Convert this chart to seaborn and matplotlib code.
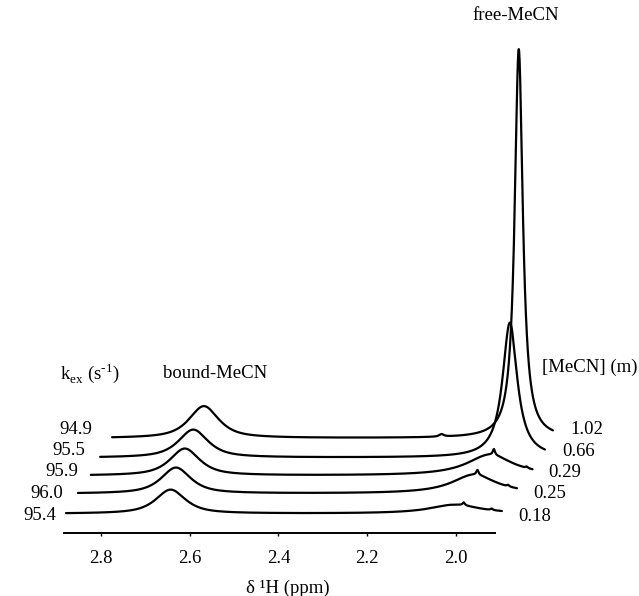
import numpy as np
import pandas as pd
import matplotlib
matplotlib.use('Agg')
import matplotlib.pyplot as plt
import seaborn as sns

sns.set_theme(style='white')
plt.rcParams['font.family'] = ['Liberation Serif', 'DejaVu Serif']
plt.rcParams['mathtext.fontset'] = 'custom'
plt.rcParams['mathtext.rm'] = 'Liberation Serif'
plt.rcParams['text.color'] = 'black'

# spectra, listed bottom to top
kex = ['95.4', '96.0', '95.9', '95.5', '94.9']
mecn = ['0.18', '0.25', '0.29', '0.66', '1.02']
start_ppm = [2.879, 2.852, 2.823, 2.802, 2.775]
end_ppm = [1.896, 1.862, 1.827, 1.799, 1.781]

# bound-MeCN line (ppm, height a.u., half width ppm)
bound_ppm = [2.643, 2.631, 2.611, 2.592, 2.568]
bound_height = [24, 26, 27, 28, 32]
bound_hw = [0.040, 0.040, 0.040, 0.040, 0.040]

# free-MeCN line
free_ppm = [2.002, 1.959, 1.923, 1.878, 1.858]
free_height = [9, 19, 21, 135, 389]
free_hw = [0.068, 0.061, 0.063, 0.020, 0.011]

# small sharp lines
spike_trace = [0, 0, 1, 1, 2, 2, 4]
spike_ppm = [1.982, 1.919, 1.951, 1.882, 1.914, 1.840, 2.032]
spike_height = [3, 1.5, 5, 1.5, 6, 1.5, 2.5]
spike_hw = [0.003, 0.003, 0.003, 0.003, 0.003, 0.003, 0.006]

ticks = [2.8, 2.6, 2.4, 2.2, 2.0]

# stacking offsets (vertical, a.u.)
base = [19, 39, 57, 75, 94.5]


def lor(x, c, h, w):
    return h / (1 + ((x - c) / w) ** 2)


def pvoigt(x, c, h, w, eta=0.8):
    g = np.exp(-np.log(2) * ((x - c) / w) ** 2)
    return eta * lor(x, c, h, w) + (1 - eta) * h * g


frames = []
for i in range(len(mecn)):
    x = np.linspace(end_ppm[i], start_ppm[i], 5000)
    y = pvoigt(x, bound_ppm[i], bound_height[i], bound_hw[i])
    y += lor(x, free_ppm[i], free_height[i], free_hw[i])
    for t, p, h, w in zip(spike_trace, spike_ppm, spike_height, spike_hw):
        if t == i:
            y += lor(x, p, h, w)
    frames.append(pd.DataFrame({'ppm': x, 'intensity': y + base[i], 'trace': mecn[i]}))
df = pd.concat(frames, ignore_index=True)

W, H = 639, 596
fig = plt.figure(figsize=(W / 100, H / 100), dpi=100)
ax = fig.add_axes([0, 63.3 / H, 1, 532.7 / H])

sns.lineplot(data=df, x='ppm', y='intensity', hue='trace', palette=['black'] * 5,
             estimator=None, sort=False, legend=False, linewidth=1.6, ax=ax)

ax.set_xlim(3.0277, 1.5869)
ax.set_ylim(0, 532.7)
for s in ['top', 'right', 'left']:
    ax.spines[s].set_visible(False)
ax.spines['bottom'].set_bounds(1.912, 2.883)
ax.spines['bottom'].set_color('black')
ax.spines['bottom'].set_linewidth(1.4)
ax.set_xticks(ticks)
ax.set_xticklabels(['%.1f' % t for t in ticks])
ax.set_yticks([])
ax.tick_params(axis='x', bottom=True, direction='out', length=2.5, width=1,
               pad=10, labelsize=13.5, color='black', labelcolor='black')
ax.set_xlabel('')
ax.set_ylabel('')


def fx(px):
    return px / W


def fy(py):
    return 1 - py / H


fs = 13.5
# left (k_ex) and right ([MeCN]) labels
left_x = [56, 63, 78, 85, 92]
left_y = [515, 493.3, 471.7, 450.7, 430]
right_x = [518, 533, 548, 562, 570]
right_y = [516.7, 494, 472.7, 451.7, 430]
for i in range(len(mecn)):
    fig.text(fx(left_x[i]), fy(left_y[i]), kex[i], ha='right', va='center', fontsize=fs)
    fig.text(fx(right_x[i]), fy(right_y[i]), mecn[i], ha='left', va='center', fontsize=fs)

fig.text(fx(60), fy(373), r'k$_{\rm ex}$ (s$^{\text{-}1}$)', ha='left', va='center', fontsize=fs)
fig.text(fx(215), fy(373), 'bound-MeCN', ha='center', va='center', fontsize=fs)
fig.text(fx(542), fy(367), '[MeCN] (m)', ha='left', va='center', fontsize=fs)
fig.text(fx(515.5), fy(15), 'free-MeCN', ha='center', va='center', fontsize=fs)
fig.text(fx(287.5), fy(588), 'δ ¹H (ppm)', ha='center', va='center', fontsize=fs)

fig.savefig('out.png', dpi=100)
